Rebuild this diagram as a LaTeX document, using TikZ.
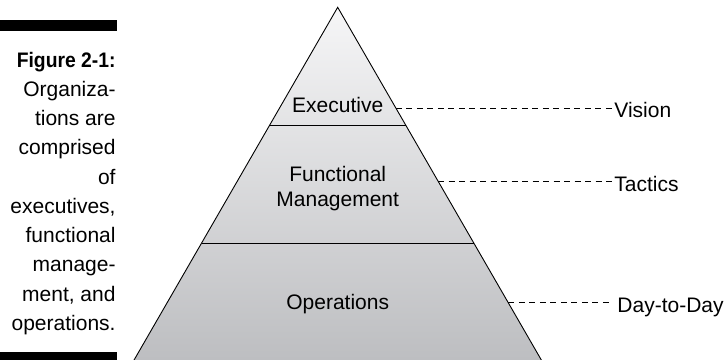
\documentclass[tikz,border=0pt]{standalone}
\usepackage{fontspec}
\setmainfont{Liberation Sans}[BoldFeatures={FakeStretch=0.92}]
\usetikzlibrary{calc}
\definecolor{pyrtop}{RGB}{246,246,247}
\definecolor{pyrbot}{RGB}{188,189,192}
\tikzset{
  lbl/.style={inner sep=0pt, font=\fontsize{21}{25}\selectfont},
  dashline/.style={dash pattern=on 6pt off 4.5pt, line width=.9pt},
}
\begin{document}
\begin{tikzpicture}[x=1pt, y=-1pt, line width=.9pt]
\useasboundingbox (0,0) rectangle (726,359);
% caption with its bars
\fill (0,20) rectangle (117,31);
\fill (0,352) rectangle (117,363);
\node[lbl, anchor=base east, font=\bfseries\fontsize{21}{25}\selectfont] (fig) at (116,67) {Figure 2-1:};
\foreach \t [count=\i] in {Organiza-, tions are, comprised, of, {executives,}, functional, manage-, {ment, and}, operations.}
  \node[lbl, anchor=base east] (cap\i) at (116,67+29.25*\i) {\t};
% pyramid
\coordinate (apex) at (337.7,7.3);
\coordinate (bl) at (130.6,366);
\coordinate (br) at (544.8,366);
\shade[top color=pyrtop, bottom color=pyrbot] (apex) -- (bl) -- (br) -- cycle;
\draw (bl) -- (apex) -- (br);
\draw ($(apex)!0.3281!(bl)$) -- ($(apex)!0.3281!(br)$);
\draw ($(apex)!0.6571!(bl)$) -- ($(apex)!0.6571!(br)$);
\node[lbl, anchor=base] (exec) at (337.7,112.5) {Executive};
\node[lbl, anchor=base] (func) at (337.7,181) {Functional};
\node[lbl, anchor=base] (mgmt) at (337.7,206) {Management};
\node[lbl, anchor=base] (oper) at (337.7,309) {Operations};
% right-hand labels
\coordinate (ev) at ($(apex)!0.2807!(br)$);
\coordinate (tv) at ($(apex)!0.4843!(br)$);
\coordinate (dv) at ($(apex)!0.8235!(br)$);
\node[lbl, anchor=base west] (vision) at (614,117) {Vision};
\node[lbl, anchor=base west] (tactics) at (614,191) {Tactics};
\node[lbl, anchor=base west] (daytoday) at (617,312) {Day-to-Day};
\draw[dashline] (ev) -- (ev -| vision.west);
\draw[dashline] (tv) -- (tv -| tactics.west);
\draw[dashline, shorten >=8pt] (dv) -- (dv -| daytoday.west);
\end{tikzpicture}
\end{document}
